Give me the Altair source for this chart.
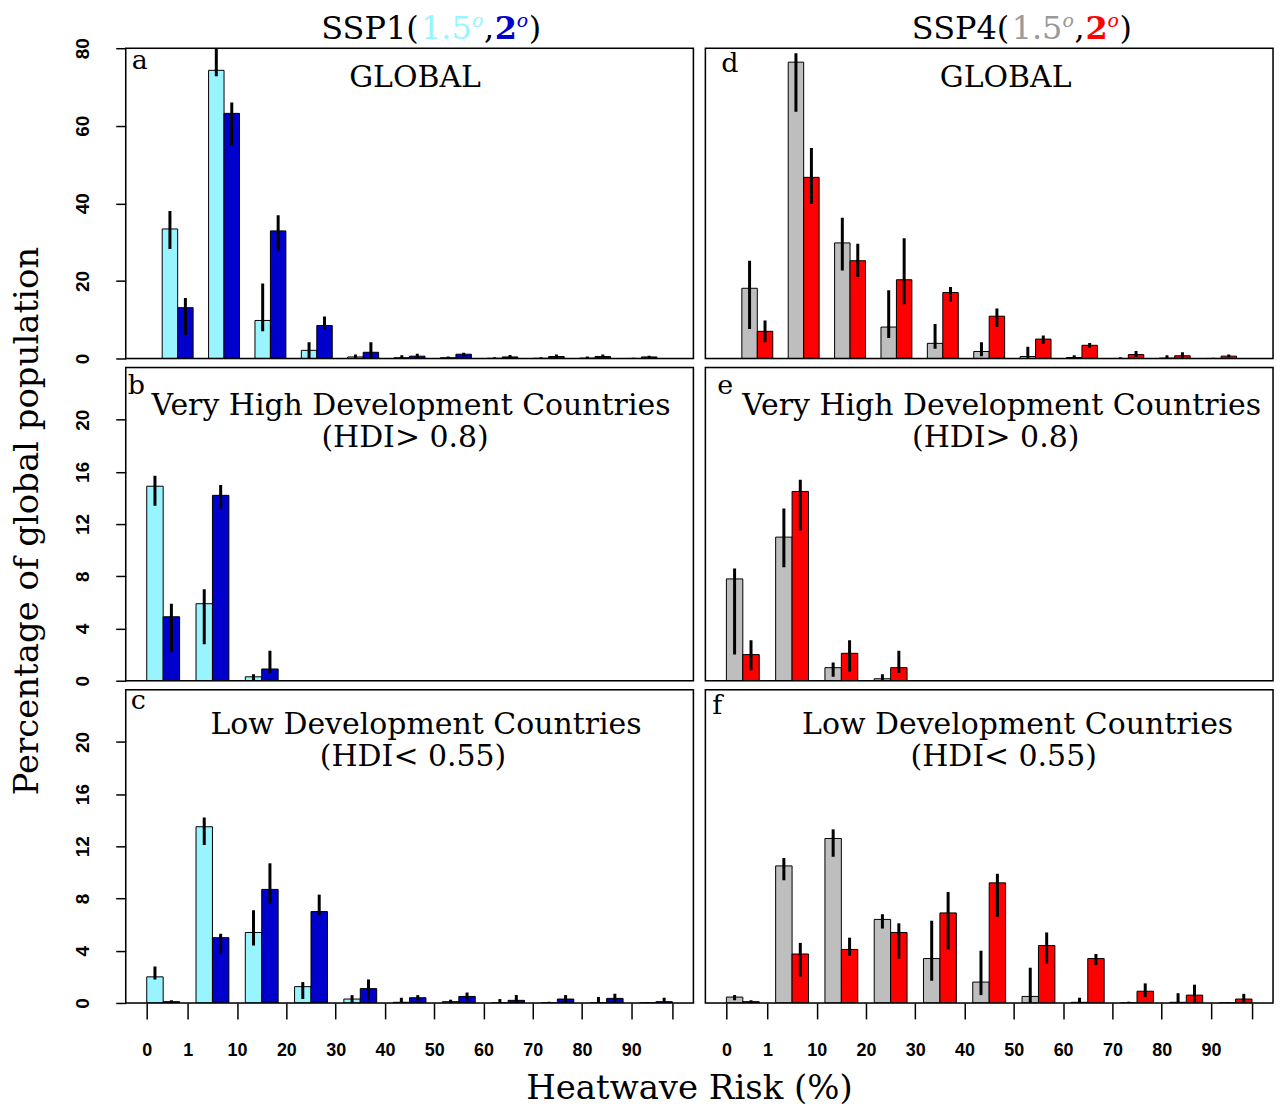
import altair as alt
import pandas as pd

SERIF = "DejaVu Serif"
SANS = "Liberation Sans"

# bin boundary tick labels (last boundary, 100, is unlabeled)
tick_labels = ["0", "1", "10", "20", "30", "40", "50", "60", "70", "80", "90", ""]
ssp1_series = ["SSP1 1.5", "SSP1 2"]
ssp4_series = ["SSP4 1.5", "SSP4 2"]

# ---- SSP1 ----
# a: GLOBAL
a15 = [33.4, 74.3, 9.8, 2.1, 0.4, 0.2, 0.2, 0.05, 0.05, 0.1, 0.0]
a15_lo = [28.2, 72.8, 7.0, 0.0, 0.0, 0.0, 0.0, 0.0, 0.0, 0.0, 0.0]
a15_hi = [38.0, 80.0, 19.3, 4.2, 1.0, 0.8, 0.5, 0.3, 0.3, 0.5, 0.2]
a2 = [13.1, 63.2, 32.9, 8.5, 1.6, 0.6, 1.1, 0.4, 0.5, 0.5, 0.4]
a2_lo = [6.1, 55.0, 27.8, 7.4, 0.0, 0.1, 0.6, 0.1, 0.1, 0.1, 0.1]
a2_hi = [15.6, 66.0, 36.9, 10.8, 4.2, 1.2, 1.5, 0.9, 1.0, 1.0, 0.7]
# b: Very high HDI
b15 = [14.9, 5.9, 0.3, 0.0, 0.0, 0.0, 0.0, 0.0, 0.0, 0.0, 0.0]
b15_lo = [13.4, 2.8, 0.0, 0.0, 0.0, 0.0, 0.0, 0.0, 0.0, 0.0, 0.0]
b15_hi = [15.7, 7.0, 0.5, 0.0, 0.0, 0.0, 0.0, 0.0, 0.0, 0.0, 0.0]
b2 = [4.9, 14.2, 0.9, 0.0, 0.0, 0.0, 0.0, 0.0, 0.0, 0.0, 0.0]
b2_lo = [2.2, 13.1, 0.6, 0.0, 0.0, 0.0, 0.0, 0.0, 0.0, 0.0, 0.0]
b2_hi = [5.9, 15.0, 2.3, 0.0, 0.0, 0.0, 0.0, 0.0, 0.0, 0.0, 0.0]
# c: Low HDI
c15 = [2.0, 13.5, 5.4, 1.25, 0.3, 0.05, 0.1, 0.0, 0.0, 0.0, 0.0]
c15_lo = [1.8, 12.1, 4.4, 0.3, 0.0, 0.0, 0.0, 0.0, 0.0, 0.0, 0.0]
c15_hi = [2.8, 14.2, 7.1, 1.6, 0.6, 0.4, 0.25, 0.3, 0.1, 0.45, 0.05]
c2 = [0.1, 5.0, 8.7, 7.0, 1.1, 0.4, 0.5, 0.2, 0.3, 0.35, 0.1]
c2_lo = [0.0, 3.8, 7.6, 6.7, 0.2, 0.2, 0.2, 0.0, 0.0, 0.0, 0.0]
c2_hi = [0.2, 5.3, 10.7, 8.3, 1.8, 0.6, 0.8, 0.6, 0.6, 0.7, 0.4]

# ---- SSP4 ----
# d: GLOBAL
d15 = [18.1, 76.4, 29.8, 8.1, 3.9, 1.8, 0.5, 0.25, 0.0, 0.1, 0.0]
d15_lo = [7.6, 63.6, 22.7, 5.3, 2.5, 0.6, 0.0, 0.0, 0.0, 0.0, 0.0]
d15_hi = [25.2, 78.7, 36.3, 17.6, 8.9, 4.2, 3.0, 0.8, 0.3, 0.8, 0.2]
d2 = [7.0, 46.7, 25.2, 20.3, 17.0, 10.9, 5.0, 3.4, 1.0, 0.7, 0.6]
d2_lo = [4.2, 39.8, 21.0, 14.0, 14.6, 8.1, 3.8, 2.7, 0.4, 0.2, 0.3]
d2_hi = [9.8, 54.3, 29.6, 31.0, 18.4, 12.9, 5.9, 4.0, 1.9, 1.6, 1.0]
# e: Very high HDI
e15 = [7.8, 11.0, 1.0, 0.15, 0.0, 0.0, 0.0, 0.0, 0.0, 0.0, 0.0]
e15_lo = [2.0, 8.7, 0.3, 0.0, 0.0, 0.0, 0.0, 0.0, 0.0, 0.0, 0.0]
e15_hi = [8.6, 13.2, 1.4, 0.5, 0.0, 0.0, 0.0, 0.0, 0.0, 0.0, 0.0]
e2 = [2.0, 14.5, 2.1, 1.0, 0.0, 0.0, 0.0, 0.0, 0.0, 0.0, 0.0]
e2_lo = [0.8, 11.5, 0.7, 0.6, 0.0, 0.0, 0.0, 0.0, 0.0, 0.0, 0.0]
e2_hi = [3.1, 15.4, 3.1, 2.3, 0.0, 0.0, 0.0, 0.0, 0.0, 0.0, 0.0]
# f: Low HDI
f15 = [0.45, 10.5, 12.6, 6.4, 3.4, 1.6, 0.5, 0.05, 0.0, 0.05, 0.0]
f15_lo = [0.2, 9.4, 11.2, 5.7, 1.7, 0.6, 0.0, 0.0, 0.0, 0.0, 0.0]
f15_hi = [0.6, 11.1, 13.3, 6.8, 6.3, 4.0, 2.7, 0.4, 0.1, 0.75, 0.05]
f2 = [0.1, 3.75, 4.1, 5.4, 6.9, 9.2, 4.4, 3.4, 0.9, 0.6, 0.3]
f2_lo = [0.0, 2.0, 3.6, 3.4, 4.1, 6.6, 3.0, 2.9, 0.45, 0.1, 0.1]
f2_hi = [0.2, 4.6, 5.0, 6.1, 8.5, 9.9, 5.4, 3.75, 1.5, 1.4, 0.7]

CYAN, BLUE, GRAY, RED = "#98F5FF", "#0000CD", "#BEBEBE", "#FF0000"

W = 569
NG = 11  # number of bins


def make_df(names, v15, lo15, hi15, v2, lo2, hi2):
    rows = []
    for k in range(NG):
        sets = [(v15[k], lo15[k], hi15[k]), (v2[k], lo2[k], hi2[k])]
        for s, (v, lo, hi) in enumerate(sets):
            left = 3 * k + 1 + s  # barplot(beside=TRUE): bar width 1, group gap 1
            rows.append(dict(group=k, series=names[s], value=v, lo=lo, hi=hi,
                             x0=left, x1=left + 1, xc=left + 0.5))
    return pd.DataFrame(rows)


# tick positions at bin boundaries (mid-gap between groups), first/last at group edges
tick_pos = [1] + [3 * k + 0.5 for k in range(1, NG)] + [3 * NG]
label_expr = "[" + ",".join("'%s'" % t for t in tick_labels) + "][indexof([" + \
    ",".join(str(p) for p in tick_pos) + "], datum.value)]"


def one():
    return pd.DataFrame({"t": [""]})


def txt(s, x, y, size, color="black", font=SERIF, weight="normal", align="center",
        baseline="middle", angle=0, style="normal"):
    return alt.Chart(pd.DataFrame({"t": [s]})).mark_text(
        align=align, baseline=baseline, fontSize=size, font=font, fontWeight=weight,
        color=color, fontStyle=style, angle=angle
    ).encode(x=alt.value(x), y=alt.value(y), text="t:N")


def panel(df, names, cols, ydom, yvals, xdom, show_y, show_x, texts, h=314):
    xs = alt.Scale(domain=xdom, nice=False, zero=False)
    ys = alt.Scale(domain=ydom, nice=False, zero=False)
    if show_x:
        xaxis = alt.Axis(values=tick_pos, labelExpr=label_expr, title=None, tickSize=16,
                         labelPadding=23, domain=False, grid=False, labelFont=SANS,
                         labelFontSize=18, labelFontWeight="bold", labelColor="black",
                         tickColor="black", tickWidth=1.5, labelFlush=False,
                         labelOverlap=False, labelBaseline="top")
    else:
        xaxis = None
    if show_y:
        yaxis = alt.Axis(values=yvals, title=None, tickSize=10, labelPadding=27,
                         labelAngle=270, labelAlign="center", labelBaseline="alphabetic",
                         domain=False, grid=False, labelFont=SANS, labelFontSize=19,
                         labelFontWeight="bold", labelColor="black", tickColor="black",
                         tickWidth=1.5, labelFlush=False, labelOverlap=False)
    else:
        yaxis = None
    color = alt.Color("series:N", scale=alt.Scale(domain=names, range=cols), legend=None)
    bars = alt.Chart(df).mark_bar(stroke="black", strokeWidth=1, clip=True).encode(
        x=alt.X("x0:Q", scale=xs, axis=xaxis), x2="x1:Q",
        y=alt.Y("value:Q", scale=ys, axis=yaxis, stack=None), y2=alt.datum(0),
        color=color)
    errs = alt.Chart(df).transform_filter("datum.hi > datum.lo").mark_rule(
        color="black", strokeWidth=3, clip=True).encode(
        x=alt.X("xc:Q", scale=xs, axis=xaxis),
        y=alt.Y("lo:Q", scale=ys, axis=yaxis), y2="hi:Q")
    box = alt.Chart(one()).mark_rect(fill=None, fillOpacity=0, stroke="black",
                                     strokeWidth=1.5).encode(
        x=alt.value(0), x2=alt.value(W), y=alt.value(0), y2=alt.value(h))
    return alt.layer(bars, errs, box, *texts).properties(width=W, height=h)


def header(lead, x0, c1, c2):
    # SSP(1.5^o, 2^o) built from pieces
    by = -9
    sy = by - 12
    return [
        txt(lead, x0, by, 32, align="left", baseline="alphabetic"),
        txt("1.5", x0 + 100, by, 32, color=c1, align="left", baseline="alphabetic"),
        txt("o", x0 + 151, sy, 19, color=c1, align="left", baseline="alphabetic", style="italic"),
        txt(",", x0 + 163, by, 32, align="left", baseline="alphabetic"),
        txt("2", x0 + 174, by, 32, color=c2, align="left", baseline="alphabetic", weight="bold"),
        txt("o", x0 + 196, sy, 19, color=c2, align="left", baseline="alphabetic", style="italic"),
        txt(")", x0 + 208, by, 32, align="left", baseline="alphabetic"),
    ]


XD1 = [-1.36, 35.36]   # global panels
XD2 = [-0.28, 34.28]   # HDI panels

TS = 30   # panel title size
LS = 27   # panel letter size
HA = 311  # height of the top (global) row

pa = panel(make_df(ssp1_series, a15, a15_lo, a15_hi, a2, a2_lo, a2_hi), ssp1_series,
           [CYAN, BLUE], [0, 80], [0, 20, 40, 60, 80], XD1, True, False,
           [txt("GLOBAL", 290, 30, TS),
            txt("a", 6, 21, LS, align="left", baseline="alphabetic")] +
           header("SSP1(", 196, CYAN, BLUE), h=HA)
pd_ = panel(make_df(ssp4_series, d15, d15_lo, d15_hi, d2, d2_lo, d2_hi), ssp4_series,
            [GRAY, RED], [0, 80], [0, 20, 40, 60, 80], XD1, False, False,
            [txt("GLOBAL", 301, 30, TS),
             txt("d", 16, 24, LS, align="left", baseline="alphabetic")] +
            header("SSP4(", 207, "#9A9A9A", RED), h=HA)
pb = panel(make_df(ssp1_series, b15, b15_lo, b15_hi, b2, b2_lo, b2_hi), ssp1_series,
           [CYAN, BLUE], [0, 24], [0, 4, 8, 12, 16, 20], XD2, True, False,
           [txt("Very High Development Countries", 286, 39, TS),
            txt("(HDI> 0.8)", 280, 71, TS),
            txt("b", 2, 27, LS, align="left", baseline="alphabetic"),
            txt("Percentage of global population", -88, 154, 34, baseline="alphabetic", angle=270)])
pe = panel(make_df(ssp4_series, e15, e15_lo, e15_hi, e2, e2_lo, e2_hi), ssp4_series,
           [GRAY, RED], [0, 24], [0, 4, 8, 12, 16, 20], XD2, False, False,
           [txt("Very High Development Countries", 297, 39, TS),
            txt("(HDI> 0.8)", 291, 71, TS),
            txt("e", 12, 27, LS, align="left", baseline="alphabetic")])
pc = panel(make_df(ssp1_series, c15, c15_lo, c15_hi, c2, c2_lo, c2_hi), ssp1_series,
           [CYAN, BLUE], [0, 24], [0, 4, 8, 12, 16, 20], XD2, True, True,
           [txt("Low Development Countries", 301, 35, TS),
            txt("(HDI< 0.55)", 288, 67, TS),
            txt("c", 5, 19, LS, align="left", baseline="alphabetic"),
            txt("Heatwave Risk (%)", 565, 410, 34, baseline="alphabetic")])
pf = panel(make_df(ssp4_series, f15, f15_lo, f15_hi, f2, f2_lo, f2_hi), ssp4_series,
           [GRAY, RED], [0, 24], [0, 4, 8, 12, 16, 20], XD2, False, True,
           [txt("Low Development Countries", 313, 35, TS),
            txt("(HDI< 0.55)", 299, 67, TS),
            txt("f", 7, 24, LS, align="left", baseline="alphabetic")])

chart = alt.concat(pa, pd_, pb, pe, pc, pf, columns=2,
                   spacing={"row": 9, "column": 12}, bounds="flush").properties(
    padding={"left": 2, "top": 2, "right": 5, "bottom": 5}
).resolve_scale(color="independent").configure_view(stroke=None).configure(background="white")

chart.save("out.html", embed_options={"renderer": "svg", "actions": False})
